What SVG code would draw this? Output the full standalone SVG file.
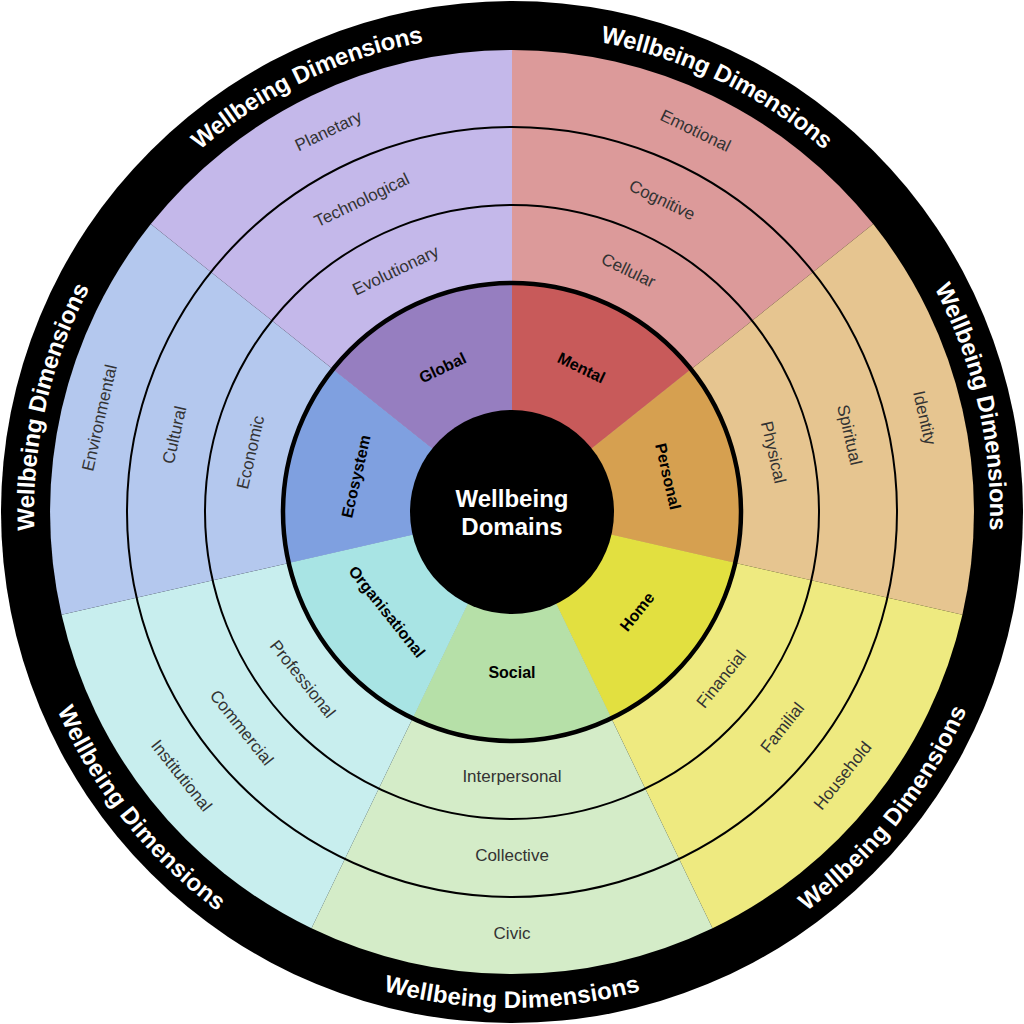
<svg xmlns="http://www.w3.org/2000/svg" width="1024" height="1024" viewBox="0 0 1024 1024">
<style>
.ring{font-family:"Liberation Sans",Arial,sans-serif;font-size:17px;fill:#333;text-anchor:middle;dominant-baseline:central}
.dom{font-family:"Liberation Sans",Arial,sans-serif;font-size:16px;font-weight:bold;fill:#000;text-anchor:middle;dominant-baseline:central}
.dim{font-family:"Liberation Sans",Arial,sans-serif;font-size:24px;font-weight:bold;fill:#fff;text-anchor:middle;dominant-baseline:central}
.line{fill:none;stroke:#000}
</style>
<defs>
<path id="pGlobal" d="M87.2,273.8 A487,487 0 0 1 590.6,31.4"/>
<path id="pMental" d="M433.4,31.4 A487,487 0 0 1 936.8,273.8"/>
<path id="pPersonal" d="M838.7,150.9 A487,487 0 0 1 963.1,695.5"/>
<path id="pEco" d="M60.9,695.5 A487,487 0 0 1 185.3,150.9"/>
<path id="pHome" d="M649.7,979.1 A487,487 0 0 0 998.1,542.3"/>
<path id="pSocial" d="M232.7,910.9 A487,487 0 0 0 791.3,910.9"/>
<path id="pOrg" d="M25.9,542.3 A487,487 0 0 0 374.3,979.1"/>
</defs>
<circle cx="512" cy="512" r="511" fill="#000"/>
<g id="outer-sectors">
<path d="M512,512 L512,50 A462,462 0 0 1 873.2,224.1 Z" fill="#dc9a9a"/>
<path d="M512,512 L873.2,224.1 A462,462 0 0 1 962.4,614.8 Z" fill="#e6c590"/>
<path d="M512,512 L962.4,614.8 A462,462 0 0 1 712.5,928.3 Z" fill="#eeea80"/>
<path d="M512,512 L712.5,928.3 A462,462 0 0 1 311.5,928.3 Z" fill="#d4ecc8"/>
<path d="M512,512 L311.5,928.3 A462,462 0 0 1 61.6,614.8 Z" fill="#c8eeee"/>
<path d="M512,512 L61.6,614.8 A462,462 0 0 1 150.8,224.1 Z" fill="#b4c8ee"/>
<path d="M512,512 L150.8,224.1 A462,462 0 0 1 512,50 Z" fill="#c4b8ea"/>
</g>
<g id="rings">
<circle class="line" cx="512" cy="512" r="385" stroke-width="2"/>
<circle class="line" cx="512" cy="512" r="307" stroke-width="2"/>
</g>
<g id="inner-sectors">
<path id="Mental" d="M512,512 L512,283 A229,229 0 0 1 691,369.2 Z" fill="#c85a5a"/>
<path id="Personal" d="M512,512 L691,369.2 A229,229 0 0 1 735.3,563 Z" fill="#d6a050"/>
<path id="Home" d="M512,512 L735.3,563 A229,229 0 0 1 611.4,718.3 Z" fill="#e2e040"/>
<path id="Social" d="M512,512 L611.4,718.3 A229,229 0 0 1 412.6,718.3 Z" fill="#b6e0a8"/>
<path id="Organisational" d="M512,512 L412.6,718.3 A229,229 0 0 1 288.7,563 Z" fill="#a8e4e4"/>
<path id="Ecosystem" d="M512,512 L288.7,563 A229,229 0 0 1 333,369.2 Z" fill="#7fa0e0"/>
<path id="Global" d="M512,512 L333,369.2 A229,229 0 0 1 512,283 Z" fill="#967ec0"/>
<circle class="line" cx="512" cy="512" r="229" stroke-width="4.5"/>
</g>
<g id="center">
<circle cx="512" cy="512" r="102" fill="#000"/>
<text class="dim" x="512" y="498">Wellbeing</text>
<text class="dim" x="512" y="526">Domains</text>
</g>
<g id="domain-labels">
<text class="dom" x="512" y="352" transform="rotate(25.71 512 512)">Mental</text>
<text class="dom" x="512" y="352" transform="rotate(77.14 512 512)">Personal</text>
<text class="dom" x="512" y="672" transform="rotate(-51.43 512 512)">Home</text>
<text class="dom" x="512" y="672">Social</text>
<text class="dom" x="512" y="672" transform="rotate(51.43 512 512)">Organisational</text>
<text class="dom" x="512" y="352" transform="rotate(-77.14 512 512)">Ecosystem</text>
<text class="dom" x="512" y="352" transform="rotate(-25.71 512 512)">Global</text>
</g>
<g id="dimension-labels">
<text class="ring" x="512" y="244" transform="rotate(25.71 512 512)">Cellular</text>
<text class="ring" x="512" y="166" transform="rotate(25.71 512 512)">Cognitive</text>
<text class="ring" x="512" y="89" transform="rotate(25.71 512 512)">Emotional</text>
<text class="ring" x="512" y="244" transform="rotate(77.14 512 512)">Physical</text>
<text class="ring" x="512" y="166" transform="rotate(77.14 512 512)">Spiritual</text>
<text class="ring" x="512" y="89" transform="rotate(77.14 512 512)">Identity</text>
<text class="ring" x="512" y="780" transform="rotate(-51.43 512 512)">Financial</text>
<text class="ring" x="512" y="858" transform="rotate(-51.43 512 512)">Familial</text>
<text class="ring" x="512" y="935" transform="rotate(-51.43 512 512)">Household</text>
<text class="ring" x="512" y="776">Interpersonal</text>
<text class="ring" x="512" y="855">Collective</text>
<text class="ring" x="512" y="933">Civic</text>
<text class="ring" x="512" y="780" transform="rotate(51.43 512 512)">Professional</text>
<text class="ring" x="512" y="858" transform="rotate(51.43 512 512)">Commercial</text>
<text class="ring" x="512" y="935" transform="rotate(51.43 512 512)">Institutional</text>
<text class="ring" x="512" y="244" transform="rotate(-77.14 512 512)">Economic</text>
<text class="ring" x="512" y="166" transform="rotate(-77.14 512 512)">Cultural</text>
<text class="ring" x="512" y="89" transform="rotate(-77.14 512 512)">Environmental</text>
<text class="ring" x="512" y="244" transform="rotate(-25.71 512 512)">Evolutionary</text>
<text class="ring" x="512" y="166" transform="rotate(-25.71 512 512)">Technological</text>
<text class="ring" x="512" y="89" transform="rotate(-25.71 512 512)">Planetary</text>
</g>
<g id="outer-labels">
<text class="dim"><textPath href="#pGlobal" startOffset="50%">Wellbeing Dimensions</textPath></text>
<text class="dim"><textPath href="#pMental" startOffset="50%">Wellbeing Dimensions</textPath></text>
<text class="dim"><textPath href="#pPersonal" startOffset="50%">Wellbeing Dimensions</textPath></text>
<text class="dim"><textPath href="#pHome" startOffset="50%">Wellbeing Dimensions</textPath></text>
<text class="dim"><textPath href="#pSocial" startOffset="50%">Wellbeing Dimensions</textPath></text>
<text class="dim"><textPath href="#pOrg" startOffset="50%">Wellbeing Dimensions</textPath></text>
<text class="dim"><textPath href="#pEco" startOffset="50%">Wellbeing Dimensions</textPath></text>
</g>
</svg>
